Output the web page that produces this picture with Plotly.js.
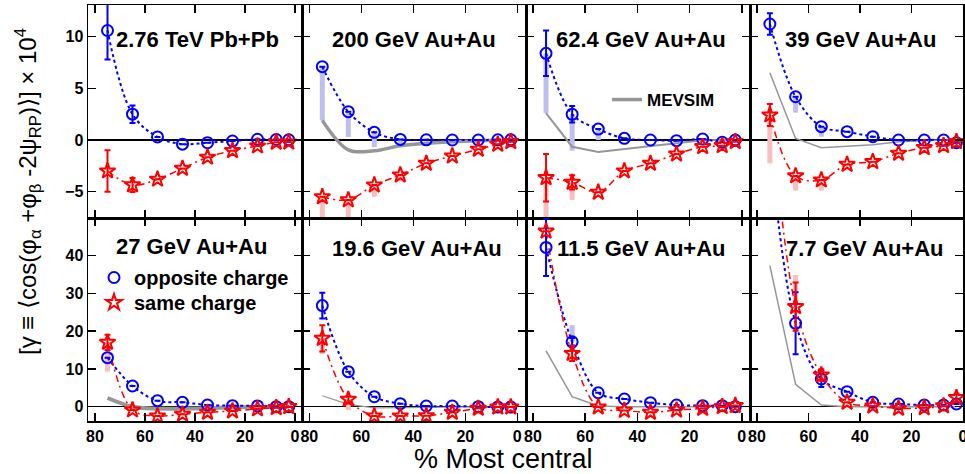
<!DOCTYPE html>
<html><head><meta charset="utf-8">
<script src="https://cdn.plot.ly/plotly-3.0.1.min.js"></script>
<style>html,body{margin:0;padding:0;background:#fff}#chart{width:965px;height:474px}</style>
</head><body><div id="chart"></div>
<script>
// ---------------- data ----------------
const centrality = [75, 65, 55, 45, 35, 25, 15, 7.5, 2.5];
const xTicks = [80, 60, 40, 20, 0];
const yTicksTop = [-5, 0, 5, 10];
const yTicksBottom = [0, 10, 20, 30, 40];
const panelLabels = ["2.76 TeV Pb+Pb", "200 GeV Au+Au", "62.4 GeV Au+Au", "39 GeV Au+Au",
                     "27 GeV Au+Au", "19.6 GeV Au+Au", "11.5 GeV Au+Au", "7.7 GeV Au+Au"];
const N = null;

// 2.76 TeV Pb+Pb
const opp2760     = [10.6, 2.5, 0.3, -0.4, -0.26, -0.1, 0.07, 0.05, 0.02];
const oppErr2760  = [2.8, 0.85, N, N, N, N, N, N, N];
const oppSys2760  = [N, N, N, N, N, N, N, N, N];
const same2760    = [-3.0, -4.35, -3.8, -2.75, -1.67, -1.03, -0.58, -0.22, -0.2];
const sameErr2760 = [2.0, 0.68, N, N, N, N, N, N, N];
const sameSys2760 = [N, N, N, N, N, N, N, N, N];
const mev2760     = null;

// 200 GeV Au+Au
const opp200     = [7.1, 2.74, 0.74, 0.06, 0.02, 0.0, 0.0, 0.02, 0.02];
const oppErr200  = [N, N, N, N, N, N, N, N, N];
const oppSys200  = [1.9, 0.3, -0.7, -0.5, N, N, N, N, N];
const same200    = [-5.5, -5.8, -4.36, -3.39, -2.26, -1.55, -0.9, -0.42, -0.16];
const sameErr200 = [N, N, N, N, N, N, N, N, N];
const sameSys200 = [-8.5, -8.5, -5.5, -4.0, N, N, N, N, N];
const mev200     = [1.9, -0.95, -1.05, -0.55, -0.32, -0.16, -0.06, -0.02, 0];

// 62.4 GeV Au+Au
const opp62     = [8.39, 2.49, 1.06, 0.16, 0.0, -0.06, 0.1, -0.22, 0.0];
const oppErr62  = [2.2, 0.8, N, N, N, N, N, N, N];
const oppSys62  = [2.6, -1.03, 0.0, N, N, N, N, N, N];
const same62    = [-3.65, -4.1, -5.06, -3.0, -2.26, -1.36, -0.65, -0.55, -0.16];
const sameErr62 = [2.3, 0.7, N, N, N, N, N, N, N];
const sameSys62 = [-8.5, -5.8, N, N, N, N, N, N, N];
const mev62     = [2.6, -0.65, -1.16, -0.87, -0.58, -0.29, -0.03, 0, 0];

// 39 GeV Au+Au
const opp39     = [11.23, 4.19, 1.29, 0.81, 0.32, 0.0, 0.0, 0.0, -0.26];
const oppErr39  = [1.05, N, N, N, N, N, N, N, N];
const oppSys39  = [N, 2.65, 0.32, N, N, N, N, N, N];
const same39    = [2.42, -3.48, -3.87, -2.36, -2.1, -1.29, -0.74, -0.55, -0.16];
const sameErr39 = [1.07, N, N, N, N, N, N, N, N];
const sameSys39 = [-2.26, -4.9, -4.9, N, N, N, N, N, N];
const mev39     = [6.52, 0.15, -0.74, -0.6, -0.45, -0.16, -0.05, 0, 0];

// 27 GeV Au+Au
const opp27     = [13.0, 5.48, 1.6, 1.16, 0.45, 0.27, 0.2, 0.0, 0.0];
const oppErr27  = [N, N, N, N, N, N, N, N, N];
const oppSys27  = [N, N, N, N, N, N, N, N, N];
const same27    = [17.05, -0.87, -2.46, -2.0, -1.5, -1.15, -0.6, -0.26, 0.0];
const sameErr27 = [2.0, N, N, N, N, N, N, N, N];
const sameSys27 = [9.3, N, N, N, N, N, N, N, N];
const mev27     = [2.3, 0.0, -0.5, -0.5, -0.4, -0.2, -0.1, 0, 0];

// 19.6 GeV Au+Au
const opp19     = [26.8, 9.28, 2.65, 0.8, 0.18, 0.18, 0.0, -0.1, -0.1];
const oppErr19  = [3.4, N, N, N, N, N, N, N, N];
const oppSys19  = [N, N, N, N, N, N, N, N, N];
const same19    = [18.1, 1.95, -2.46, -2.46, -2.4, -1.5, -0.44, -0.1, -0.1];
const sameErr19 = [3.5, 0.8, N, N, N, N, N, N, N];
const sameSys19 = [14.0, -0.9, N, N, N, N, N, N, N];
const mev19     = [2.9, 0.6, -0.3, -0.3, -0.2, -0.1, 0, 0, 0];

// 11.5 GeV Au+Au
const opp11     = [42.2, 17.2, 3.7, 2.04, 1.06, 0.45, 0.27, 0.27, 0.0];
const oppErr11  = [7.6, 1.0, N, N, N, N, N, N, N];
const oppSys11  = [N, 21.6, N, N, N, N, N, N, N];
const same11    = [46.5, 14.1, -0.1, -1.0, -1.5, -0.9, -0.45, 0.0, 0.3];
const sameErr11 = [N, 2.0, N, N, N, N, N, N, N];
const sameSys11 = [N, N, N, N, N, N, N, N, N];
const mev11     = [14.8, 2.65, 0.2, 0, 0, 0, 0, 0, 0];

// 7.7 GeV Au+Au
const opp7     = [70, 22.1, 7.34, 3.97, 1.16, 0.72, 0.45, 0.45, 0.72];
const oppErr7  = [N, 8.2, 2.1, N, N, N, N, N, N];
const oppSys7  = [N, N, N, N, N, N, N, N, N];
const same7    = [85, 26.5, 8.4, 1.16, 0.18, -0.44, -0.3, 0.2, 2.4];
const sameErr7 = [N, 6.4, 1.5, N, N, N, N, N, 1.0];
const sameSys7 = [N, 34.9, N, N, N, N, N, N, N];
const mev7     = [37.4, 5.9, 0.45, 0, 0, 0, 0, 0, 0];

// ---------------- layout helpers ----------------
const W = 965, H = 474;
const px = v => v / W, py = v => 1 - v / H;
const colDom = [[88, 302], [302, 526], [526, 750], [750, 963]];
const colRange = [[82.8, -2.8], [82.81, -3.35], [82.68, -3.14], [82.72, -0.05]];
const rowDom = [[5, 218], [218, 421]];
const rowRange = [[-7.55, 13.07], [-3.79, 50]];

const panels = [
  {opp: opp2760, oppErr: oppErr2760, oppSys: oppSys2760, same: same2760, sameErr: sameErr2760, sameSys: sameSys2760, mev: mev2760},
  {opp: opp200, oppErr: oppErr200, oppSys: oppSys200, same: same200, sameErr: sameErr200, sameSys: sameSys200, mev: mev200, mevW: 3.5, mevShape: 'spline', mevLegend: true},
  {opp: opp62, oppErr: oppErr62, oppSys: oppSys62, same: same62, sameErr: sameErr62, sameSys: sameSys62, mev: mev62, mevW: 2},
  {opp: opp39, oppErr: oppErr39, oppSys: oppSys39, same: same39, sameErr: sameErr39, sameSys: sameSys39, mev: mev39, mevW: 1.5},
  {opp: opp27, oppErr: oppErr27, oppSys: oppSys27, same: same27, sameErr: sameErr27, sameSys: sameSys27, mev: mev27, mevW: 4, mevShape: 'spline', dataLegend: true},
  {opp: opp19, oppErr: oppErr19, oppSys: oppSys19, same: same19, sameErr: sameErr19, sameSys: sameSys19, mev: mev19, mevW: 1.2},
  {opp: opp11, oppErr: oppErr11, oppSys: oppSys11, same: same11, sameErr: sameErr11, sameSys: sameSys11, mev: mev11, mevW: 1.5},
  {opp: opp7, oppErr: oppErr7, oppSys: oppSys7, same: same7, sameErr: sameErr7, sameSys: sameSys7, mev: mev7, mevW: 1.5}
];

const FONT = 'Liberation Sans, Arial, Helvetica, sans-serif';
const BLUE = 'rgb(0,0,255)', RED = 'rgb(255,0,0)';
const traces = [];
const layout = {
  width: W, height: H, margin: {l: 0, r: 0, t: 0, b: 0},
  paper_bgcolor: '#fff', plot_bgcolor: 'rgba(0,0,0,0)',
  font: {family: FONT, color: '#000'},
  showlegend: true,
  annotations: []
};

function sysSegments(vals, ends) {
  const xs = [], ys = [];
  vals.forEach((v, j) => {
    if (ends[j] !== null && v !== null) { xs.push(centrality[j], centrality[j], null); ys.push(v, ends[j], null); }
  });
  return {xs, ys};
}

panels.forEach((p, i) => {
  const row = i < 4 ? 0 : 1, col = i % 4;
  const s = i === 0 ? '' : String(i + 1);
  const xa = 'x' + s, ya = 'y' + s;
  layout['xaxis' + s] = {
    domain: [px(colDom[col][0]), px(colDom[col][1])], range: colRange[col], anchor: ya,
    showline: true, mirror: 'ticks', linecolor: '#000', linewidth: 1.5,
    ticks: 'inside', ticklen: 8, tickwidth: 1.5, tickcolor: '#000',
    tickmode: 'array', tickvals: xTicks, ticktext: xTicks.map(String),
    showticklabels: row === 1, ticklabeloverflow: 'allow', showgrid: false, zeroline: false,
    tickfont: {family: FONT, size: 16, weight: 'bold', color: '#000'}
  };
  layout['yaxis' + s] = {
    domain: [py(rowDom[row][1]), py(rowDom[row][0])], range: rowRange[row], anchor: xa,
    showline: true, mirror: 'ticks', linecolor: '#000', linewidth: 1.5,
    ticks: 'inside', ticklen: 8, tickwidth: 1.5, tickcolor: '#000',
    tickmode: 'array', tickvals: row === 0 ? yTicksTop : yTicksBottom,
    showticklabels: col === 0, showgrid: false,
    zeroline: true, zerolinecolor: '#000', zerolinewidth: 1.5,
    tickfont: {family: FONT, size: 16, weight: 'bold', color: '#000'}
  };

  // systematic bands
  const so = sysSegments(p.opp, p.oppSys);
  traces.push({x: so.xs, y: so.ys, xaxis: xa, yaxis: ya, mode: 'lines', showlegend: false, hoverinfo: 'skip',
               line: {color: 'rgb(190,190,240)', width: 5}});
  const ss = sysSegments(p.same, p.sameSys);
  traces.push({x: ss.xs, y: ss.ys, xaxis: xa, yaxis: ya, mode: 'lines', showlegend: false, hoverinfo: 'skip',
               line: {color: 'rgb(250,190,190)', width: 5}});
  // MEVSIM
  if (p.mev) {
    traces.push({x: centrality, y: p.mev, xaxis: xa, yaxis: ya, mode: 'lines', name: 'MEVSIM',
                 showlegend: !!p.mevLegend, legend: 'legend2',
                 line: {color: 'rgb(150,150,150)', width: p.mevW, shape: p.mevShape || 'linear'}});
  }
  // connecting curves
  traces.push({x: centrality, y: p.opp, xaxis: xa, yaxis: ya, mode: 'lines', showlegend: false, hoverinfo: 'skip',
               line: {color: BLUE, width: 2, dash: 'dot', shape: 'spline', smoothing: 1}});
  traces.push({x: centrality, y: p.same, xaxis: xa, yaxis: ya, mode: 'lines', showlegend: false, hoverinfo: 'skip',
               line: {color: RED, width: 1.5, dash: '7px,4px,2px,4px', shape: 'spline', smoothing: 1}});
  // markers
  traces.push({x: centrality, y: p.opp, xaxis: xa, yaxis: ya, mode: 'markers', name: 'opposite charge',
               showlegend: !!p.dataLegend, legend: 'legend',
               marker: {symbol: 'circle-open', size: 11, color: BLUE, line: {width: 2, color: BLUE}},
               error_y: {type: 'data', array: p.oppErr, visible: true, color: BLUE, thickness: 2, width: 3}});
  traces.push({x: centrality, y: p.same, xaxis: xa, yaxis: ya, mode: 'markers', name: 'same charge',
               showlegend: !!p.dataLegend, legend: 'legend3',
               marker: {symbol: 'star-open', size: 12, color: RED, line: {width: 2, color: RED}},
               error_y: {type: 'data', array: p.sameErr, visible: true, color: RED, thickness: 2, width: 3}});
});

// panel labels
const labelPos = [[114, 39], [330, 39], [554, 39], [783, 39], [114, 247], [330, 248], [555, 248], [784, 248]];
panelLabels.forEach((t, i) => {
  layout.annotations.push({text: t, xref: 'paper', yref: 'paper', x: px(labelPos[i][0]), y: py(labelPos[i][1]),
    xanchor: 'left', yanchor: 'middle', showarrow: false,
    font: {family: FONT, size: 22, weight: 'bold', color: '#000'}});
});
// axis titles
layout.annotations.push({text: '% Most central', xref: 'paper', yref: 'paper', x: px(503), y: py(459),
  xanchor: 'center', yanchor: 'middle', showarrow: false, font: {family: FONT, size: 27, color: '#000'}});
layout.annotations.push({text: '[γ ≡ ⟨cos(φ<sub>α</sub> +φ<sub>β</sub> -2ψ<sub>RP</sub>)⟩] × 10<sup>4</sup>',
  xref: 'paper', yref: 'paper', x: px(28), y: py(192), textangle: -90,
  xanchor: 'center', yanchor: 'middle', showarrow: false, font: {family: FONT, size: 24, color: '#000'}});

// legends
const legFont = {family: FONT, size: 20, weight: 'bold', color: '#000'};
layout.legend = {x: px(94), y: py(258), xanchor: 'left', yanchor: 'top', bgcolor: 'rgba(0,0,0,0)', font: legFont, borderwidth: 0};
layout.legend3 = {x: px(94), y: py(283), xanchor: 'left', yanchor: 'top', bgcolor: 'rgba(0,0,0,0)', font: legFont, borderwidth: 0};
layout.legend2 = {x: px(607), y: py(82), xanchor: 'left', yanchor: 'top', bgcolor: 'rgba(0,0,0,0)',
  font: {family: FONT, size: 17, weight: 'bold', color: '#000'}, borderwidth: 0};

Plotly.newPlot('chart', traces, layout, {staticPlot: true, displayModeBar: false});
</script>
</body></html>
